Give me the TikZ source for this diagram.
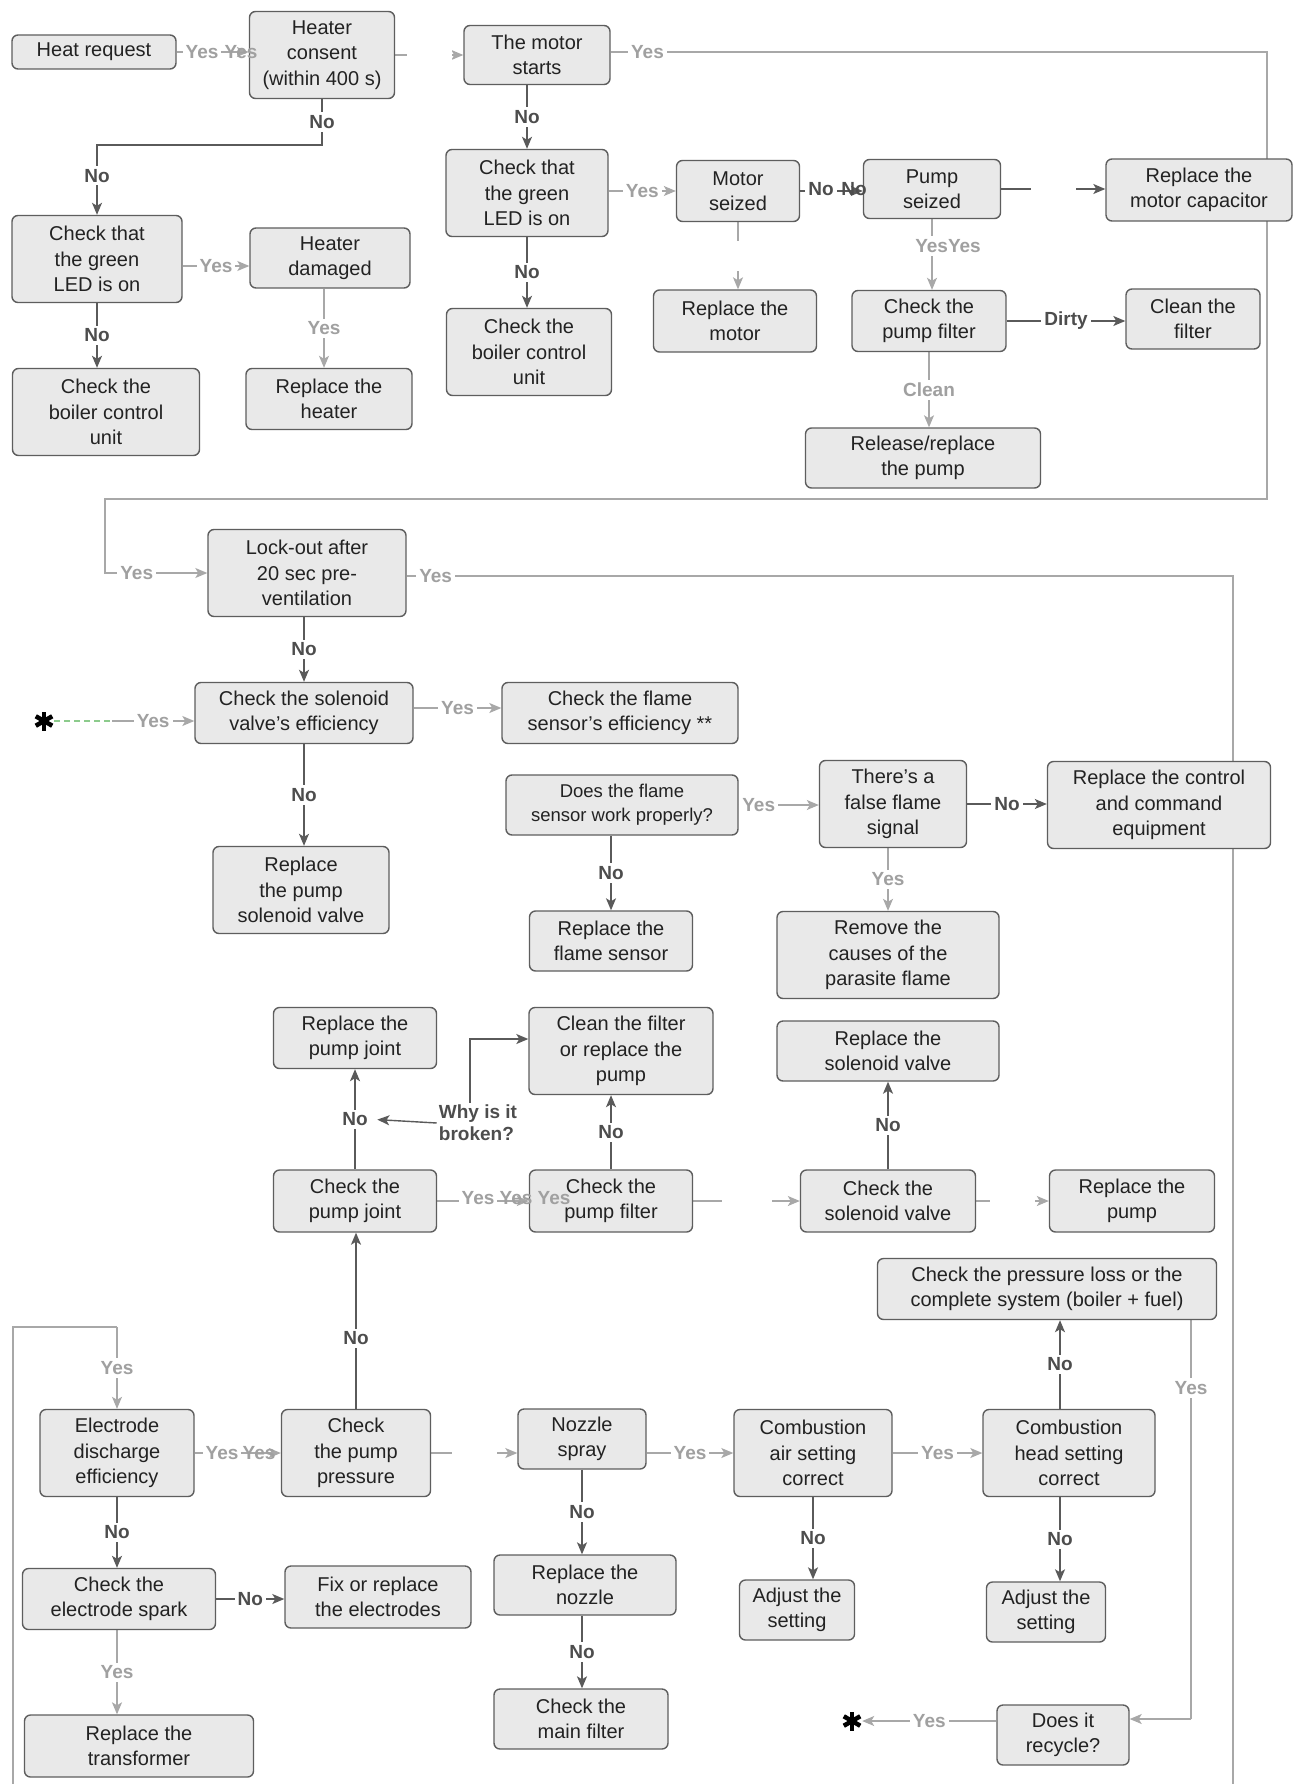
\documentclass[tikz,border=0pt]{standalone}
\usepackage{fontspec}
\setmainfont{Liberation Sans}
\usetikzlibrary{arrows.meta,backgrounds,calc}
\definecolor{boxfill}{HTML}{E9E9E9}
\definecolor{boxline}{HTML}{5E5E5E}
\definecolor{txt}{HTML}{222222}
\definecolor{dkline}{HTML}{5A5A5A}
\definecolor{ltline}{HTML}{A8A8A8}
\definecolor{nocol}{HTML}{4D4D4D}
\definecolor{yescol}{HTML}{A0A0A0}
\definecolor{greenline}{HTML}{8CCB8C}
\newcommand\boxfont{\fontsize{20}{25.5}\selectfont}
\newcommand\lblfont{\fontsize{19}{22}\selectfont\bfseries}
\newcommand\bx[6]{\node[box,minimum width=#4pt,minimum height=#5pt] (#1) at (#2,#3) {#6};}
\begin{document}
\begin{tikzpicture}[x=1pt,y=-1pt,
  box/.style={draw=boxline, fill=boxfill, rounded corners=6pt, line width=1.4pt, align=center, font=\boxfont, text=txt, inner sep=2pt},
  ltl/.style={draw=ltline, line width=1.2pt},
  lt/.style={ltl, -{Stealth[length=12pt,width=10pt,inset=3pt]}},
  dk/.style={draw=dkline, line width=1.4pt, -{Stealth[length=12pt,width=10pt,inset=3pt]}},
  nol/.style={fill=white, text=nocol, font=\lblfont, inner sep=3pt},
  yesl/.style={fill=white, text=yescol, font=\lblfont, inner sep=3pt},
  yeso/.style={text=yescol, font=\lblfont, inner sep=0pt},
  noo/.style={text=nocol, font=\lblfont, inner sep=0pt},
  gapn/.style={fill=white, inner sep=0pt, minimum size=#1},
  starn/.style={inner sep=0pt, minimum size=20pt},
  whyl/.style={text=nocol, font=\lblfont, align=left, inner sep=2pt}
]
\useasboundingbox (0,0) rectangle (1301,1784);

% ---------- boxes ----------
\bx{heat}{94}{52}{164}{34}{Heat request}
\bx{consent}{322}{55}{145}{87}{Heater\\consent\\(within 400 s)}
\bx{motor}{537}{55}{146}{59}{The motor\\starts}
\bx{ledL}{97}{259}{170}{87}{Check that\\the green\\LED is on}
\bx{damaged}{330}{258}{160}{60}{Heater\\damaged}
\bx{ledM}{527}{193}{162}{87}{Check that\\the green\\LED is on}
\bx{mseized}{738}{191}{123}{61}{Motor\\seized}
\bx{pseized}{932}{189}{137}{59}{Pump\\seized}
\bx{capac}{1199}{190}{186}{62}{Replace the\\motor capacitor}
\bx{boilL}{106}{412}{187}{87}{Check the\\boiler control\\unit}
\bx{rheater}{329}{399}{166}{61}{Replace the\\heater}
\bx{boilM}{529}{352}{165}{87}{Check the\\boiler control\\unit}
\bx{rmotor}{735}{321}{163}{62}{Replace the\\motor}
\bx{pfilter}{929}{321}{154}{61}{Check the\\pump filter}
\bx{cfilter}{1193}{319}{134}{60}{Clean the\\filter}
\bx{release}{923}{458}{235}{60}{Release/replace\\the pump}
\bx{lockout}{307}{573}{198}{87}{Lock-out after\\20 sec pre-\\ventilation}
\bx{soleff}{304}{713}{218}{61}{Check the solenoid\\valve's efficiency}
\bx{flameeff}{620}{713}{236}{61}{Check the flame\\sensor's efficiency **}
\node[box,minimum width=232pt,minimum height=60pt,font=\fontsize{18.5}{24}\selectfont] (flamework) at (622,805) {Does the flame\\sensor work properly?};
\bx{falseflame}{893}{804}{147}{87}{There's a\\false flame\\signal}
\bx{rcontrol}{1159}{805}{223}{87}{Replace the control\\and command\\equipment}
\bx{rpsv}{301}{890}{176}{87}{Replace\\the pump\\solenoid valve}
\bx{rflame}{611}{941}{163}{60}{Replace the\\flame sensor}
\bx{remove}{888}{955}{222}{87}{Remove the\\causes of the\\parasite flame}
\bx{rjoint}{355}{1038}{163}{61}{Replace the\\pump joint}
\bx{cleanrep}{621}{1051}{184}{87}{Clean the filter\\or replace the\\pump}
\bx{rsolv}{888}{1051}{222}{60}{Replace the\\solenoid valve}
\bx{cjoint}{355}{1201}{163}{62}{Check the\\pump joint}
\bx{cpfilter}{611}{1201}{163}{62}{Check the\\pump filter}
\bx{csolv}{888}{1201}{175}{62}{Check the\\solenoid valve}
\bx{rpump}{1132}{1201}{165}{62}{Replace the\\pump}
\bx{ploss}{1047}{1289}{339}{61}{Check the pressure loss or the\\complete system (boiler + fuel)}
\bx{electrode}{117}{1453}{154}{87}{Electrode\\discharge\\efficiency}
\bx{ppress}{356}{1453}{149}{87}{Check\\the pump\\pressure}
\bx{nozzle}{582}{1439}{128}{60}{Nozzle\\spray}
\bx{combair}{813}{1453}{158}{87}{Combustion\\air setting\\correct}
\bx{combhead}{1069}{1453}{172}{87}{Combustion\\head setting\\correct}
\bx{espark}{119}{1599}{193}{61}{Check the\\electrode spark}
\bx{fix}{378}{1597}{186}{62}{Fix or replace\\the electrodes}
\bx{rnozzle}{585}{1585}{182}{60}{Replace the\\nozzle}
\bx{adj1}{797}{1610}{115}{60}{Adjust the\\setting}
\bx{adj2}{1046}{1612}{119}{60}{Adjust the\\setting}
\bx{rtrans}{139}{1746}{229}{62}{Replace the\\transformer}
\bx{mainf}{581}{1719}{174}{60}{Check the\\main filter}
\bx{recycle}{1063}{1735}{132}{60}{Does it\\recycle?}

\node[whyl] (why) at (478,1123) {Why is it\\broken?};

% asterisks
\node[starn] (st1) at (44,721) {};
\node[starn] (st2) at (852,1721) {};
\foreach \s in {st1,st2}{
  \foreach \a in {90,30,-30}{
    \draw[line width=4.5pt,black] ($(\s.center)+(\a:9.5)$) -- ($(\s.center)+(\a+180:9.5)$);
  }
}

% helper coordinates
\coordinate (xw) at (470,0);
\coordinate (yw) at (0,1039);
\coordinate (xh) at (1060,0);
\coordinate (xdm) at (324,0);
\coordinate (yled) at (0,266);
\coordinate (c1) at (1267,52);
\coordinate (c2) at (1267,499);
\coordinate (c3) at (105,499);
\coordinate (c4) at (105,573);
\coordinate (d1) at (1233,576);
\coordinate (d2) at (1233,1784);
\coordinate (lb0) at (13,1784);
\coordinate (lb1) at (13,1327);
\coordinate (lb2) at (117,1327);
\coordinate (dj) at (112,721);
\coordinate (ysf) at (0,708);
\coordinate (e1) at (1191,1719);
\coordinate (yr2) at (0,1721);

% ---------- connectors ----------
\begin{pgfonlayer}{background}
\fill[white] (0,0) rectangle (1301,1784);
% long routes
\draw[lt] (motor.east |- c1) -- node[yesl,pos=0.056]{Yes} (c1) -- (c2) -- (c3) -- (c4) -- node[yesl,pos=0.31]{Yes} (lockout.west);
\draw[ltl] (lockout.east |- d1) -- node[yesl,pos=0.035]{Yes} (d1) -- (d2);
\draw[ltl] (lb0) -- (lb1) -- (lb2);
\draw[lt] (lb2) -- node[yesl]{Yes} (electrode.north);

% top
\draw[lt] (heat.east) -- (consent.west |- heat.east);
\draw[lt] (consent.east) -- node[gapn=45pt]{} (motor.west);
\draw[dk] (consent.south) -- node[nol]{No} (consent.south |- 0,145) -| node[nol,pos=0.72]{No} (ledL.north);
\draw[lt] (ledL.east |- yled) -- node[yesl]{Yes} (damaged.west |- yled);
\draw[dk] (ledL.south) -- node[nol]{No} (ledL.south |- boilL.north);
\draw[lt] (damaged.south -| xdm) -- node[yesl]{Yes} (rheater.north -| xdm);
\draw[dk] (motor.south -| ledM.north) -- node[nol]{No} (ledM.north);
\draw[lt] (ledM.east |- mseized.west) -- node[yesl]{Yes} (mseized.west);
\draw[dk] (ledM.south) -- node[nol]{No} (ledM.south |- boilM.north);
\draw[dk] (mseized.east) -- (mseized.east -| pseized.west);
\draw[dk] (pseized.east) -- node[gapn=45pt]{} (pseized.east -| capac.west);
\draw[lt] (mseized.south) -- node[gapn=30pt]{} (mseized.south |- rmotor.north);
\draw[lt] (pseized.south) -- (pseized.south |- pfilter.north);
\node[yesl] at (948,246) {YesYes};
\draw[dk] (pfilter.east) -- node[nol]{Dirty} (cfilter.west |- pfilter.east);
\draw[lt] (pfilter.south) -- node[yesl]{Clean} (pfilter.south |- release.north);

% middle
\draw[dk] (soleff.north |- lockout.south) -- node[nol]{No} (soleff.north);
\draw[greenline, line width=1.1pt, dash pattern=on 6pt off 4pt] (st1.east) -- (dj);
\draw[lt] (dj) -- node[yesl]{Yes} (soleff.west |- dj);
\draw[lt] (soleff.east |- ysf) -- node[yesl]{Yes} (flameeff.west |- ysf);
\draw[dk] (soleff.south) -- node[nol]{No} (soleff.south |- rpsv.north);
\draw[lt] (flamework.east) -- node[yesl,pos=0.25]{Yes} (falseflame.west |- flamework.east);
\draw[dk] (rflame.north |- flamework.south) -- node[nol]{No} (rflame.north);
\draw[dk] (falseflame.east) -- node[nol]{No} (rcontrol.west |- falseflame.east);
\draw[lt] (remove.north |- falseflame.south) -- node[yesl]{Yes} (remove.north);

\draw[lt] (cjoint.east) -- (cpfilter.west);
\draw[dk] (cjoint.north) -- node[nol] (noj) {No} (rjoint.south);
\draw[dk, shorten >=6pt] (why.west) -- (noj.east);
\draw[dk] (why.north -| xw) -- (xw |- yw) -- (cleanrep.west |- yw);
\draw[dk] (cpfilter.north) -- node[nol]{No} (cleanrep.south -| cpfilter.north);
\draw[lt] (cpfilter.east) -- node[gapn=50pt]{} (csolv.west);
\draw[dk] (csolv.north) -- node[nol]{No} (rsolv.south -| csolv.north);
\draw[lt] (csolv.east) -- node[gapn=45pt]{} (rpump.west);

% bottom
\draw[dk] (ppress.north) -- node[nol,pos=0.4]{No} (cjoint.south -| ppress.north);
\draw[lt] (electrode.east) -- (ppress.west);
\draw[dk] (electrode.south) -- node[nol]{No} (electrode.south |- espark.north);
\draw[dk] (espark.east) -- node[nol]{No} (fix.west |- espark.east);
\draw[lt] (espark.south -| electrode.south) -- node[yesl]{Yes} (rtrans.north -| electrode.south);
\draw[lt] (ppress.east) -- node[gapn=45pt]{} (nozzle.west |- ppress.east);
\draw[lt] (nozzle.east |- combair.west) -- node[yesl]{Yes} (combair.west);
\draw[dk] (nozzle.south) -- node[nol]{No} (nozzle.south |- rnozzle.north);
\draw[dk] (rnozzle.south -| nozzle.south) -- node[nol]{No} (mainf.north -| nozzle.south);
\draw[lt] (combair.east) -- node[yesl]{Yes} (combhead.west);
\draw[dk] (combair.south) -- node[nol]{No} (combair.south |- adj1.north);
\draw[dk] (combhead.south -| xh) -- node[nol]{No} (adj2.north -| xh);
\draw[dk] (combhead.north -| xh) -- node[nol]{No} (ploss.south -| xh);
\draw[ltl] (ploss.south -| e1) -- node[yesl,pos=0.17]{Yes} (e1);
\draw[lt] (e1) -- (recycle.east |- e1);
\draw[lt] (recycle.west |- yr2) -- node[yesl]{Yes} (st2.east);
\end{pgfonlayer}

% duplicated labels drawn on top
\node[yesl] at (202,52) {Yes};
\node[yeso] at (241,52) {Yes};
\node[nol] at (821,189) {No};
\node[noo] at (854,189) {No};
\node[yesl] at (478,1198) {Yes};
\node[yeso] at (516,1198) {Yes};
\node[yeso] at (554,1198) {Yes};
\node[yesl] at (222,1453) {Yes};
\node[yeso] at (259,1453) {Yes};
\end{tikzpicture}
\end{document}
